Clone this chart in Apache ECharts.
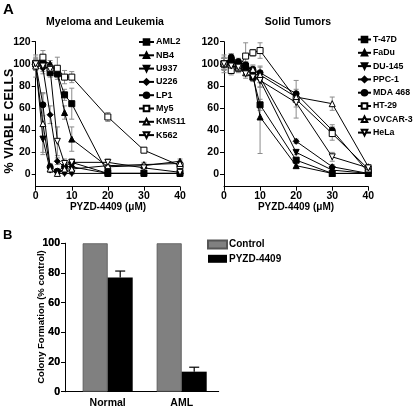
<!DOCTYPE html>
<html><head><meta charset="utf-8">
<script src="https://cdn.jsdelivr.net/npm/echarts@6/dist/echarts.min.js"></script>
<style>html,body{margin:0;padding:0;background:#fff}
#a{position:absolute;left:0;top:0;width:415px;height:215px}
#b{position:absolute;left:0;top:215px;width:415px;height:192px}
#by{position:absolute;left:0;top:215px;width:415px;height:192px;pointer-events:none;z-index:5}</style>
</head><body><div id="a"></div><div id="b"></div><div id="by"></div>
<script>
// ---------- DATA ----------
const doseX = [0, 2, 4, 6, 8, 10, 20, 30, 40];
const yTicksA = [0, 20, 40, 60, 80, 100, 120];

// Myeloma and Leukemia
const leukNames = ['AML2', 'NB4', 'U937', 'U226', 'LP1', 'My5', 'KMS11', 'K562'];
const aml2  = [100, 101, 92, 91, 72, 64, 1, 1, 1];
const nb4   = [100, 103, 100, 92, 56, 32, 7, 8, 12];
const u937  = [100, 32, 4, 1, 1, 1, 1, 1, 1];
const u226  = [100, 96, 54, 12, 7, 7, 1, 1, 1];
const lp1   = [100, 63, 7, 3, 7, 11, 1, 1, 1];
const my5   = [100, 106, 96, 96, 88, 88, 52, 22, 8];
const kms11 = [98, 46, 5, 1, 5, 5, 8, 9, 10];
const k562  = [100, 98, 95, 30, 10, 11, 11, 6, 2];
const aml2Err  = [3, 3, 4, 3, 5, 14, 1, 1, 1];
const nb4Err   = [4, 4, 3, 4, 6, 11, 2, 2, 2];
const u937Err  = [5, 12, 2, 1, 1, 1, 1, 1, 1];
const u226Err  = [4, 5, 8, 3, 2, 2, 1, 1, 1];
const lp1Err   = [3, 10, 3, 2, 2, 3, 1, 1, 1];
const my5Err   = [4, 6, 5, 10, 6, 5, 4, 2, 4];
const kms11Err = [10, 28, 3, 1, 2, 2, 3, 2, 2];
const k562Err  = [6, 5, 5, 13, 4, 3, 3, 2, 1];

// Solid Tumors
const solidNames = ['T-47D', 'FaDu', 'DU-145', 'PPC-1', 'MDA 468', 'HT-29', 'OVCAR-3', 'HeLa'];
const t47d   = [100, 102, 98, 96, 88, 63, 13, 1, 1];
const fadu   = [100, 104, 100, 97, 92, 52, 8, 1, 1];
const du145  = [100, 103, 99, 98, 90, 85, 20, 4, 1];
const ppc1   = [100, 105, 101, 99, 93, 88, 30, 7, 1];
const mda468 = [100, 106, 102, 99, 95, 92, 73, 40, 2];
const ht29   = [100, 94, 96, 107, 110, 112, 68, 37, 5];
const ovcar3 = [100, 99, 97, 92, 95, 90, 70, 64, 7];
const hela   = [100, 98, 97, 91, 88, 85, 65, 16, 6];
const t47dErr   = [5, 3, 3, 3, 4, 5, 2, 1, 1];
const faduErr   = [5, 4, 3, 3, 4, 33, 2, 1, 1];
const du145Err  = [5, 4, 4, 3, 5, 6, 2, 1, 1];
const ppc1Err   = [5, 4, 3, 3, 4, 5, 2, 2, 1];
const mda468Err = [6, 3, 3, 3, 4, 6, 4, 5, 1];
const ht29Err   = [8, 4, 4, 12, 3, 7, 17, 6, 2];
const ovcar3Err = [5, 4, 4, 3, 3, 7, 4, 6, 2];
const helaErr   = [5, 4, 4, 4, 3, 6, 4, 4, 2];

// Colony formation
const colonyCats = ['Normal', 'AML'];
const colonyPos = [1, 2];
const controlVals = [100, 100];
const pyzdVals = [77, 13.5];
const pyzdErr = [4.3, 3];
const yTicksB = [0, 20, 40, 60, 80, 100];

// ---------- STYLE ----------
const FONT = '"Liberation Sans", Arial, sans-serif';
const markerA = [
  {symbol: 'rect', rot: 0, empty: false},
  {symbol: 'triangle', rot: 0, empty: false},
  {symbol: 'triangle', rot: 180, empty: false},
  {symbol: 'diamond', rot: 0, empty: false},
  {symbol: 'circle', rot: 0, empty: false},
  {symbol: 'rect', rot: 0, empty: true},
  {symbol: 'triangle', rot: 0, empty: true},
  {symbol: 'triangle', rot: 180, empty: true}
];
const leukVals = [aml2, nb4, u937, u226, lp1, my5, kms11, k562];
const leukErrs = [aml2Err, nb4Err, u937Err, u226Err, lp1Err, my5Err, kms11Err, k562Err];
const solidVals = [t47d, fadu, du145, ppc1, mda468, ht29, ovcar3, hela];
const solidErrs = [t47dErr, faduErr, du145Err, ppc1Err, mda468Err, ht29Err, ovcar3Err, helaErr];

function errRender(color, cap) {
  return function (params, api) {
    const x = api.value(0), lo = api.value(1), hi = api.value(2);
    const a = api.coord([x, hi]), b = api.coord([x, lo]);
    const st = {stroke: color, lineWidth: 1};
    return {type: 'group', children: [
      {type: 'line', shape: {x1: a[0], y1: a[1], x2: b[0], y2: b[1]}, style: st},
      {type: 'line', shape: {x1: a[0] - cap, y1: a[1], x2: a[0] + cap, y2: a[1]}, style: st},
      {type: 'line', shape: {x1: b[0] - cap, y1: b[1], x2: b[0] + cap, y2: b[1]}, style: st}
    ]};
  };
}

const seriesA = [];
function addGroup(names, vals, errs, gi) {
  names.forEach((n, k) => {
    seriesA.push({
      type: 'custom', name: n + '_err', xAxisIndex: gi, yAxisIndex: gi, z: 1, silent: true,
      renderItem: errRender('#8c8c8c', 2.5),
      encode: {x: 0, y: [1, 2]},
      data: doseX.map((x, i) => [x, vals[k][i] - errs[k][i], vals[k][i] + errs[k][i]])
    });
  });
  names.forEach((n, k) => {
    const m = markerA[k];
    seriesA.push({
      type: 'line', name: n, xAxisIndex: gi, yAxisIndex: gi, z: 3,
      data: doseX.map((x, i) => [x, vals[k][i]]),
      symbol: m.symbol, symbolRotate: m.rot, symbolSize: 6,
      showAllSymbol: true,
      lineStyle: {color: '#000', width: 1},
      itemStyle: {color: m.empty ? '#fff' : '#000', borderColor: '#000', borderWidth: 1},
      emphasis: {disabled: true}
    });
  });
}
addGroup(leukNames, leukVals, leukErrs, 0);
addGroup(solidNames, solidVals, solidErrs, 1);

const labelStyle = {fontFamily: FONT, fontWeight: 'bold', fontSize: 10.5, color: '#000'};
function valX(gi) {
  return {
    type: 'value', gridIndex: gi, min: 0, max: 40, interval: 10,
    axisLine: {onZero: false, lineStyle: {color: '#000', width: 1}},
    axisTick: {length: 4, lineStyle: {color: '#000'}},
    axisLabel: Object.assign({margin: 4}, labelStyle),
    splitLine: {show: false}
  };
}
function valYA(gi) {
  return {
    type: 'value', gridIndex: gi, min: -11, max: 120,
    axisLine: {show: true, onZero: false, lineStyle: {color: '#000', width: 1}},
    axisTick: {show: true, length: 4, customValues: yTicksA, lineStyle: {color: '#000'}},
    axisLabel: Object.assign({margin: 5, customValues: yTicksA}, labelStyle),
    splitLine: {show: false}
  };
}
const legendText = {fontFamily: FONT, fontWeight: 'bold', fontSize: 9, lineHeight: 9, color: '#000', padding: [0, 0, 0, -3]};

const optionA = {
  animation: false,
  backgroundColor: '#fff',
  grid: [
    {left: 35.7, top: 41.7, width: 144.3, height: 145, outerBoundsMode: 'none'},
    {left: 224, top: 41.7, width: 144.3, height: 145, outerBoundsMode: 'none'}
  ],
  xAxis: [valX(0), valX(1)],
  yAxis: [valYA(0), valYA(1)],
  legend: [
    {
      data: leukNames, orient: 'vertical', left: 138, top: 37.5, itemWidth: 15, itemHeight: 7,
      itemGap: 4.3, textStyle: legendText, selectedMode: false, padding: 0
    },
    {
      data: solidNames, orient: 'vertical', left: 357, top: 35, itemWidth: 13, itemHeight: 7,
      itemGap: 4.3, textStyle: Object.assign({}, legendText, {fontSize: 8.8}), selectedMode: false, padding: 0
    }
  ],
  graphic: [
    {type: 'text', left: 3, top: 2, style: {text: 'A', font: 'bold 15px ' + FONT, fill: '#000'}},
    {type: 'text', x: 105, y: 22.5, style: {text: 'Myeloma and Leukemia', font: 'bold 10.5px ' + FONT, fill: '#000', align: 'center', verticalAlign: 'middle'}},
    {type: 'text', x: 298, y: 22.5, style: {text: 'Solid Tumors', font: 'bold 10.5px ' + FONT, fill: '#000', align: 'center', verticalAlign: 'middle'}},
    {type: 'text', x: 108, y: 207, style: {text: 'PYZD-4409 (\u03bcM)', font: 'bold 10px ' + FONT, fill: '#000', align: 'center', verticalAlign: 'middle'}},
    {type: 'text', x: 296, y: 207, style: {text: 'PYZD-4409 (\u03bcM)', font: 'bold 10px ' + FONT, fill: '#000', align: 'center', verticalAlign: 'middle'}},
    {type: 'text', x: 10, y: 121, rotation: Math.PI / 2, style: {text: '% VIABLE CELLS', font: 'bold 12.5px ' + FONT, fill: '#000', align: 'center', verticalAlign: 'middle'}}
  ],
  series: seriesA
};
echarts.init(document.getElementById('a')).setOption(optionA);

// ---------- PANEL B ----------
const BAR_FRAC = 0.338;
const optionB = {
  animation: false,
  backgroundColor: '#fff',
  grid: [{left: 65, top: 28.3, width: 153.7, height: 148.4, outerBoundsMode: 'none'}],
  xAxis: [{
    type: 'value', min: 0.423, max: 2.5,
    axisLine: {show: true, onZero: false, lineStyle: {color: '#000', width: 1}},
    axisTick: {show: false},
    axisLabel: Object.assign({
      margin: 6, customValues: colonyPos,
      formatter: function (v) { return colonyCats[colonyPos.indexOf(Math.round(v))] || ''; }
    }, labelStyle),
    splitLine: {show: false}
  }],
  yAxis: [{
    type: 'value', min: 0, max: 100, interval: 20,
    axisLine: {show: true, onZero: false, lineStyle: {color: '#000', width: 1}},
    axisTick: {show: true, length: 4, lineStyle: {color: '#000'}},
    axisLabel: Object.assign({margin: 5}, labelStyle),
    splitLine: {show: false}
  }],
  legend: {
    data: ['Control', 'PYZD-4409'], orient: 'vertical', left: 207, top: 24.5, itemWidth: 19, itemHeight: 8,
    itemGap: 4.3, icon: 'rect', textStyle: Object.assign({}, legendText, {fontSize: 10, lineHeight: 10}), selectedMode: false, padding: 0
  },
  graphic: [
    {type: 'text', left: 3, top: 14, style: {text: 'B', font: 'bold 13px ' + FONT, fill: '#000'}},
    {type: 'text', x: 41, y: 102, rotation: Math.PI / 2, style: {text: 'Colony Formation (% control)', font: 'bold 9.5px ' + FONT, fill: '#000', align: 'center', verticalAlign: 'middle'}}
  ],
  series: [
    {
      type: 'bar', name: 'Control', data: colonyPos.map((x, i) => [x, controlVals[i]]),
      barWidth: (BAR_FRAC * 100) + '%', barGap: '0%',
      itemStyle: {color: '#808080', borderColor: '#555', borderWidth: 0.8}
    },
    {
      type: 'bar', name: 'PYZD-4409', data: colonyPos.map((x, i) => [x, pyzdVals[i]]),
      barWidth: (BAR_FRAC * 100) + '%', barGap: '0%',
      itemStyle: {color: '#000'}
    },
    {
      type: 'custom', name: 'pyzd_err', z: 5, silent: true,
      encode: {x: 0, y: [1, 2]},
      data: colonyPos.map((x, i) => [x, pyzdVals[i], pyzdVals[i] + pyzdErr[i]]),
      renderItem: function (params, api) {
        const unit = api.size([1, 0])[0];
        const off = unit * BAR_FRAC / 2;
        const a = api.coord([api.value(0), api.value(2)]), b = api.coord([api.value(0), api.value(1)]);
        const x = a[0] + off;
        const st = {stroke: '#000', lineWidth: 1.2};
        return {type: 'group', children: [
          {type: 'line', shape: {x1: x, y1: a[1], x2: x, y2: b[1]}, style: st},
          {type: 'line', shape: {x1: x - 5, y1: a[1], x2: x + 5, y2: a[1]}, style: st}
        ]};
      }
    }
  ]
};
echarts.init(document.getElementById('b')).setOption(optionB);

// Y axis of panel B drawn by its own overlay instance (same grid geometry)
const optionBY = {
  animation: false,
  backgroundColor: 'transparent',
  grid: [{left: 65, top: 28.3, width: 153.7, height: 148.4}],
  xAxis: [{type: 'value', min: 0.423, max: 2.5, show: false}],
  yAxis: [{
    type: 'value', min: 0, max: 100, interval: 20,
    axisLine: {show: true, onZero: false, lineStyle: {color: '#000'}},
    axisTick: {show: true, length: 4, lineStyle: {color: '#000'}},
    axisLabel: Object.assign({margin: 5}, labelStyle),
    splitLine: {show: false}
  }],
  series: []
};
echarts.init(document.getElementById('by')).setOption(optionBY);
</script></body></html>
